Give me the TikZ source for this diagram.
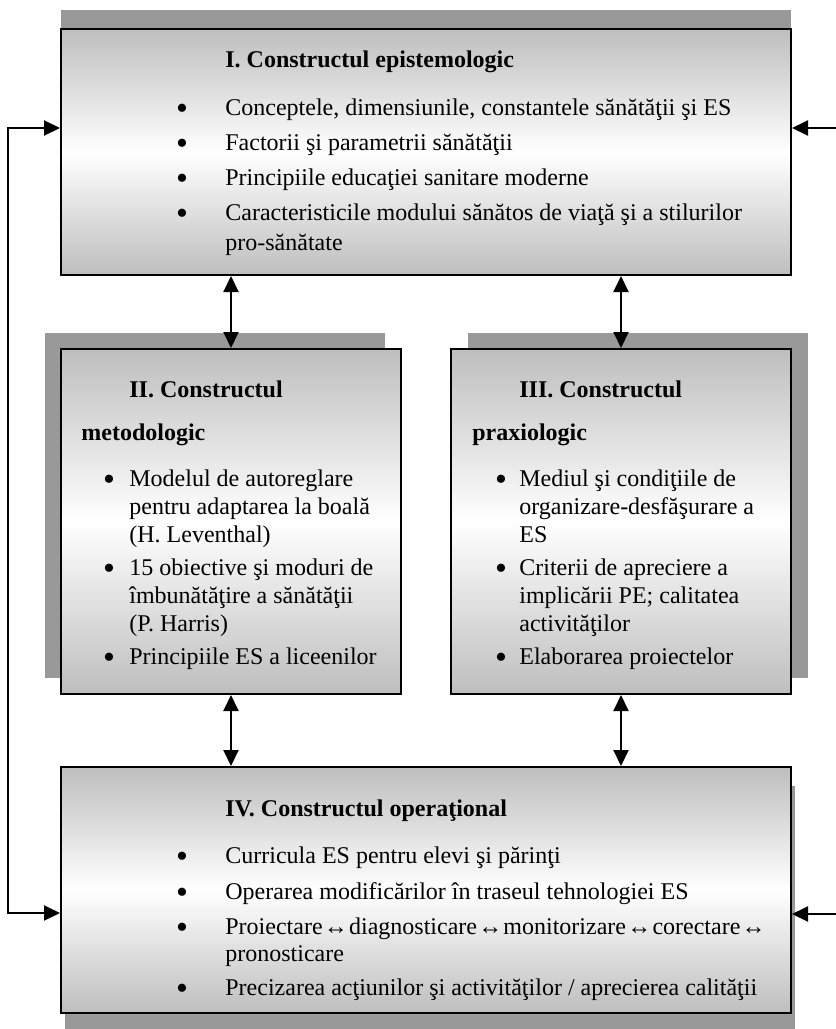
\documentclass[tikz,border=0pt]{standalone}
\usepackage{fontspec}
\setmainfont{Liberation Serif}
\usetikzlibrary{arrows.meta,shadows}

\definecolor{shadowgray}{RGB}{153,153,153}
\definecolor{boxgray}{RGB}{190,190,190}

% tight double arrow used inside the text
\newcommand{\lr}{\kern0.6pt↔\kern0.6pt}

\begin{document}
\begin{tikzpicture}[x=0.5pt,y=-0.5pt,
  every node/.style={font=\fontsize{12pt}{15pt}\selectfont},
  box/.style={rectangle, draw=black, line width=1pt, inner sep=0pt, anchor=north west,
    top color=boxgray, bottom color=boxgray, middle color=white},
  shade/.style 2 args={drop shadow={shadow xshift=#1, shadow yshift=#2, fill=shadowgray, opacity=1}},
  hd/.style={anchor=base west, inner sep=0pt, font=\fontsize{12pt}{15pt}\selectfont\bfseries},
  ln/.style={anchor=base west, inner sep=0pt},
  dot/.style={anchor=base, inner sep=0pt, yshift=-2.4pt, font=\fontsize{17pt}{17pt}\selectfont},
  arr/.style={line width=1pt, -{Triangle[length=8pt,width=7.5pt]}},
  both/.style={line width=1pt, {Triangle[length=8pt,width=7.5pt]}-{Triangle[length=8pt,width=7.5pt]}}]
\useasboundingbox (0,0) rectangle (836,1029);

% the four blocks with their offset shadows
\node[box, minimum width=365pt, minimum height=123pt, shade={0pt}{9.5pt}] (b1) at (60,28) {};
\node[box, minimum width=170pt, minimum height=172.5pt, shade={-8pt}{8pt}] (b2) at (60,348) {};
\node[box, minimum width=170pt, minimum height=172.5pt, shade={8.5pt}{8pt}] (b3) at (450,348) {};
\node[box, minimum width=365pt, minimum height=123pt, shade={1.75pt}{-9.5pt}] (b4) at (60,766) {};

% block I
\node[hd] (t1) at (225,67) {I. Constructul epistemologic};
\node[dot] (d1a) at (182,115) {•};
\node[ln] (l1a) at (225,115) {Conceptele, dimensiunile, constantele sănătăţii şi ES};
\node[dot] (d1b) at (182,150) {•};
\node[ln] (l1b) at (225,150) {Factorii şi parametrii sănătăţii};
\node[dot] (d1c) at (182,185) {•};
\node[ln] (l1c) at (225,185) {Principiile educaţiei sanitare moderne};
\node[dot] (d1d) at (182,220) {•};
\node[ln] (l1d) at (225,220) {Caracteristicile modului sănătos de viaţă şi a stilurilor};
\node[ln] (l1e) at (225,250) {pro-sănătate};

% block II
\node[hd] (t2a) at (129,397) {II. Constructul};
\node[hd] (t2b) at (81,440) {metodologic};
\node[dot] (d2a) at (109,486) {•};
\node[ln] (l2a) at (129,486) {Modelul de autoreglare};
\node[ln] (l2b) at (129,514) {pentru adaptarea la boală};
\node[ln] (l2c) at (129,542) {(H. Leventhal)};
\node[dot] (d2b) at (109,575) {•};
\node[ln] (l2d) at (129,575) {15 obiective şi moduri de};
\node[ln] (l2e) at (129,603) {îmbunătăţire a sănătăţii};
\node[ln] (l2f) at (129,631) {(P. Harris)};
\node[dot] (d2c) at (109,664) {•};
\node[ln] (l2g) at (129,664) {Principiile ES a liceenilor};

% block III
\node[hd] (t3a) at (519,397) {III. Constructul};
\node[hd] (t3b) at (472,440) {praxiologic};
\node[dot] (d3a) at (501,486) {•};
\node[ln] (l3a) at (519,486) {Mediul şi condiţiile de};
\node[ln] (l3b) at (519,514) {organizare-desfăşurare a};
\node[ln] (l3c) at (519,542) {ES};
\node[dot] (d3b) at (501,575) {•};
\node[ln] (l3d) at (519,575) {Criterii de apreciere a};
\node[ln] (l3e) at (519,603) {implicării PE; calitatea};
\node[ln] (l3f) at (519,631) {activităţilor};
\node[dot] (d3c) at (501,664) {•};
\node[ln] (l3g) at (519,664) {Elaborarea proiectelor};

% block IV
\node[hd] (t4) at (225,816) {IV. Constructul operaţional};
\node[dot] (d4a) at (182,863) {•};
\node[ln] (l4a) at (225,863) {Curricula ES pentru elevi şi părinţi};
\node[dot] (d4b) at (182,899) {•};
\node[ln] (l4b) at (225,899) {Operarea modificărilor în traseul tehnologiei ES};
\node[dot] (d4c) at (182,934) {•};
\node[ln] (l4c) at (225,934) {Proiectare\lr diagnosticare\lr monitorizare\lr corectare\lr};
\node[ln] (l4d) at (225,961) {pronosticare};
\node[dot] (d4d) at (182,995) {•};
\node[ln] (l4e) at (225,995) {Precizarea acţiunilor şi activităţilor / aprecierea calităţii};

% connectors between blocks
\draw[both] (b1.south -| b2.north) -- (b2.north);
\draw[both] (b1.south -| b3.north) -- (b3.north);
\draw[both] (b2.south) -- (b2.south |- b4.north);
\draw[both] (b3.south) -- (b3.south |- b4.north);

% feedback loop on the left
\coordinate (lin1) at ([yshift=-50pt]b1.north west);
\coordinate (lin4) at ([yshift=-73.5pt]b4.north west);
\draw[both] (lin1) -- ++(-52,0) |- (lin4);

% incoming arrows on the right
\coordinate (rin1) at ([yshift=-50pt]b1.north east);
\coordinate (rin4) at ([yshift=-74pt]b4.north east);
\coordinate (rsrc1) at (836,128);
\coordinate (rsrc4) at (836,914);
\draw[arr] (rsrc1) -- (rin1);
\draw[arr] (rsrc4) -- (rin4);
\end{tikzpicture}
\end{document}
